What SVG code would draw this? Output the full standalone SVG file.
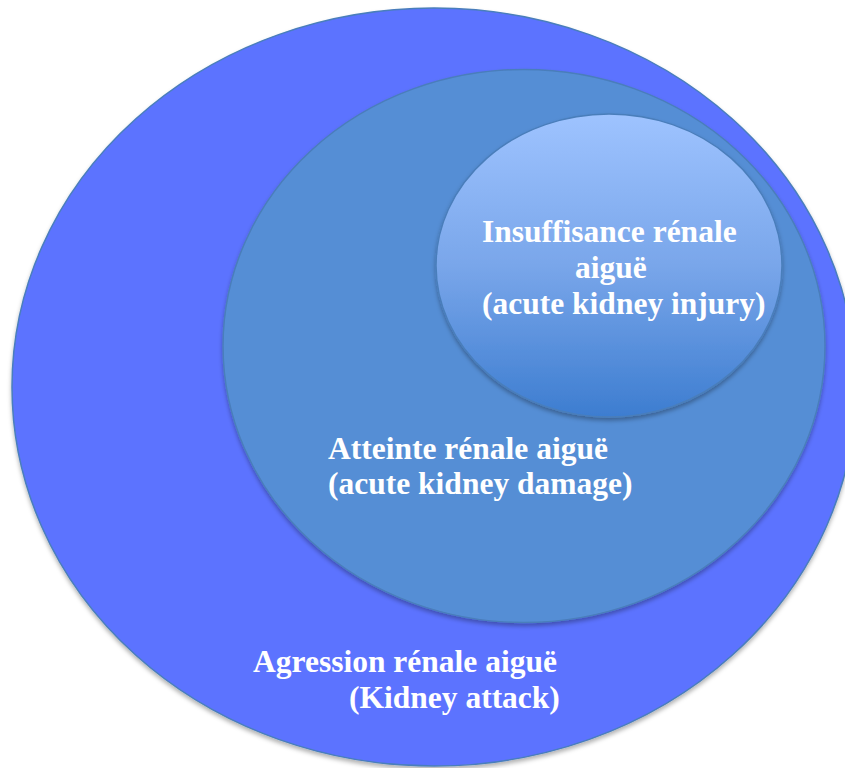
<svg xmlns="http://www.w3.org/2000/svg" width="845" height="768" viewBox="0 0 845 768">
<style>
.lbl{font-family:"Liberation Serif","Times New Roman",serif;font-weight:bold;font-size:31.5px;fill:#ffffff}
.ring{stroke:#4a7ebb;stroke-width:1.5}
</style>
<defs>
<linearGradient id="gInner" x1="0" y1="0" x2="0" y2="1">
<stop offset="0" stop-color="#9ec3ff"/>
<stop offset="0.5" stop-color="#79a6ea"/>
<stop offset="1" stop-color="#3d7dd0"/>
</linearGradient>
<filter id="sh" x="-10%" y="-10%" width="120%" height="120%">
<feDropShadow dx="0" dy="3" stdDeviation="2" flood-color="#000" flood-opacity="0.3"/>
</filter>
</defs>
<rect width="845" height="768" fill="#ffffff"/>
<g id="outer">
<ellipse class="ring" cx="434" cy="387" rx="422" ry="379" fill="#5b73ff" filter="url(#sh)"/>
<text class="lbl" x="253" y="672">Agression rénale aiguë</text>
<text class="lbl" x="349" y="708">(Kidney attack)</text>
</g>
<g id="middle">
<ellipse class="ring" cx="524" cy="346" rx="301" ry="276.5" fill="#558ed5" filter="url(#sh)"/>
<text class="lbl" x="328" y="459">Atteinte rénale aiguë</text>
<text class="lbl" x="328" y="494">(acute kidney damage)</text>
</g>
<g id="inner">
<ellipse class="ring" cx="609" cy="265.5" rx="173" ry="151.5" fill="url(#gInner)" filter="url(#sh)"/>
<text class="lbl" x="482" y="242">Insuffisance rénale</text>
<text class="lbl" x="575" y="278">aiguë</text>
<text class="lbl" x="482" y="314">(acute kidney injury)</text>
</g>
<g id="connectors"></g>
</svg>
